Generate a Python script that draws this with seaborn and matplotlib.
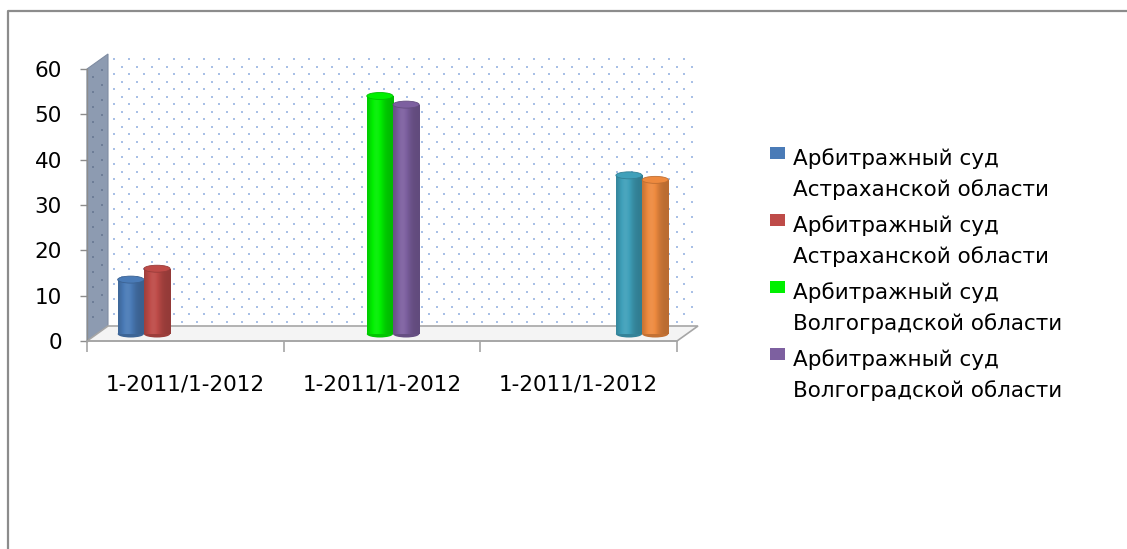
import numpy as np
import pandas as pd
import matplotlib
matplotlib.use("Agg")
import matplotlib.pyplot as plt
import seaborn as sns
from matplotlib.patches import Polygon, Ellipse, Rectangle
from matplotlib.transforms import ScaledTranslation
from matplotlib.colors import to_rgb

# ---------------- data ----------------
period_labels = ["1-2011/1-2012", "1-2011/1-2012", "1-2011/1-2012"]
court_labels = ["Арбитражный суд\nАстраханской области",
                "Арбитражный суд\nАстраханской области",
                "Арбитражный суд\nВолгоградской области",
                "Арбитражный суд\nВолгоградской области",
                "Арбитражный суд\nСаратовской области",
                "Арбитражный суд\nСаратовской области"]
bar_series = ["s1", "s2", "s3", "s4", "s5", "s6"]
bar_period = [0, 0, 1, 1, 2, 2]
bar_values = [12.0, 14.4, 52.5, 50.6, 35.0, 34.0]
bar_colors = ["#4A7BB7", "#BE4B48", "#00F000", "#7D60A0", "#3FA0BA", "#EE8A3F"]
y_ticks = [0, 10, 20, 30, 40, 50, 60]
n_legend = 4

df = pd.DataFrame({"period": bar_period, "series": bar_series, "value": bar_values})

# ---------------- figure / background "3D" box ----------------
W, H = 1127, 549
sns.set_theme(style="white")
plt.rcParams['font.family'] = ['DejaVu Sans']
plt.rcParams['text.color'] = 'black'
plt.rcParams['xtick.color'] = 'black'
plt.rcParams['ytick.color'] = 'black'

fig = plt.figure(figsize=(W / 100, H / 100), dpi=100)
fig.patch.set_facecolor("white")

bg = fig.add_axes([0, 0, 1, 1])
bg.set_xlim(0, W)
bg.set_ylim(H, 0)
bg.axis("off")

# outer frame of the chart area
bg.plot([8, 8, W], [H, 11, 11], color="#8C8C8C", lw=1.6, solid_capstyle="butt")

fx0, fx1, fy0, fy1 = 87, 677, 341, 69   # front plane of the plot
ddx, ddy = 21, -15                      # depth offset

back = Polygon([(fx0 + ddx, fy0 + ddy), (fx1 + ddx, fy0 + ddy),
                (fx1 + ddx, fy1 + ddy), (fx0 + ddx, fy1 + ddy)],
               closed=True, facecolor="white", edgecolor="none", zorder=1)
bg.add_patch(back)
side = Polygon([(fx0, fy0), (fx0, fy1), (fx0 + ddx, fy1 + ddy), (fx0 + ddx, fy0 + ddy)],
               closed=True, facecolor="#8D9BB1", edgecolor="#7F8CA2", lw=0.8, zorder=2)
bg.add_patch(side)
floor = Polygon([(fx0, fy0), (fx1, fy0), (fx1 + ddx, fy0 + ddy), (fx0 + ddx, fy0 + ddy)],
                closed=True, facecolor="#F4F4F4", edgecolor="#A6A6A6", lw=1.2, zorder=2)
bg.add_patch(floor)

# dotted texture of the walls
gx, gy = [], []
for k, yy in enumerate(np.arange(fy1 + ddy + 5, fy0 + ddy - 2, 7.5)):
    off = 0 if k % 2 == 0 else 7.5
    for xx in np.arange(fx0 + ddx + 6 + off, fx1 + ddx - 2, 15):
        gx.append(xx)
        gy.append(yy)
bg.scatter(gx, gy, s=3.0, marker="s", color="#A9C0E6", linewidths=0, zorder=1.5)
sx, sy = [], []
for u in (0.3, 0.72):
    for yy in np.arange(fy1 + 12, fy0 - 6, 15):
        sx.append(fx0 + u * ddx)
        sy.append(yy + u * ddy)
bg.scatter(sx, sy, s=2.5, marker="s", color="#6E7E98", linewidths=0, zorder=2.5)

# ---------------- bars ----------------
ax = fig.add_axes([fx0 / W, 1 - fy0 / H, (fx1 - fx0) / W, (fy0 - fy1) / H])
ax.patch.set_alpha(0)

sns.barplot(data=df, x="period", y="value", hue="series", hue_order=bar_series,
            palette=dict(zip(bar_series, bar_colors)), dodge=True, width=0.8,
            saturation=1, legend=False, ax=ax, linewidth=0)

ax.set_xlim(-0.5, 2.5)
ax.set_ylim(0, 60)

shift = ax.transData + ScaledTranslation(11 / 100, 7 / 100, fig.dpi_scale_trans)
px_per_unit = (fy0 - fy1) / 60
ell_h = 7 / px_per_unit

t = np.linspace(0, 1, 64)
prof = 0.78 + 0.28 * np.exp(-((t - 0.35) / 0.28) ** 2)


def shade(c, f):
    c = np.array(to_rgb(c))
    if f <= 1:
        return c * f
    return c + (1 - c) * (f - 1)


for cont, col in zip(ax.containers, bar_colors):
    for bar in cont:
        h = bar.get_height()
        if not np.isfinite(h) or h <= 0:
            continue
        x0, w = bar.get_x(), bar.get_width()
        bar.set_transform(shift)
        bar.set_zorder(3)
        img = np.array([shade(col, f) for f in prof])[None, :, :]
        im = ax.imshow(img, extent=(x0, x0 + w, 0, h), aspect="auto",
                       interpolation="bilinear", zorder=3.1)
        im.set_transform(shift)
        im.set_clip_path(bar)
        ax.add_patch(Ellipse((x0 + w / 2, 0), w, ell_h, transform=shift,
                             facecolor=shade(col, 0.82), edgecolor="none", zorder=2.9))
        ax.add_patch(Ellipse((x0 + w / 2, h), w, ell_h, transform=shift,
                             facecolor=shade(col, 1.0), edgecolor=shade(col, 0.8),
                             lw=0.6, zorder=3.2))

ax.set_xlim(-0.5, 2.5)
ax.set_ylim(0, 60)

# ---------------- axes styling ----------------
for s in ("top", "right"):
    ax.spines[s].set_visible(False)
ax.spines["left"].set_color("#8C8C8C")
ax.spines["bottom"].set_color("#A6A6A6")
ax.spines["left"].set_linewidth(1.0)
ax.spines["bottom"].set_linewidth(1.2)

ax.set_yticks(y_ticks)
ax.set_yticklabels([str(v) for v in y_ticks])
ax.tick_params(axis="y", left=True, length=5, width=1, color="#8C8C8C",
               labelsize=15.5, pad=13)

ax.set_xticks([-0.5, 0.5, 1.5, 2.5])
ax.set_xticklabels([""] * 4)
ax.set_xticks([0, 1, 2], minor=True)
ax.set_xticklabels(period_labels, minor=True)
ax.tick_params(axis="x", which="major", bottom=True, length=8, width=1.2, color="#A6A6A6")
ax.tick_params(axis="x", which="minor", bottom=True, length=0, labelsize=15.5, pad=24)
ax.set_xlabel("")
ax.set_ylabel("")

# ---------------- legend ----------------
for i in range(n_legend):
    base = 165 + 67 * i
    bg.add_patch(Rectangle((770, base - 18), 15, 12, facecolor=bar_colors[i],
                           edgecolor="none", zorder=5))
    for j, line in enumerate(court_labels[i].split("\n")):
        bg.text(793, base + 31 * j, line, va="baseline", ha="left",
                fontsize=15.5, color="black", zorder=5)

fig.savefig("out.png", dpi=100)
